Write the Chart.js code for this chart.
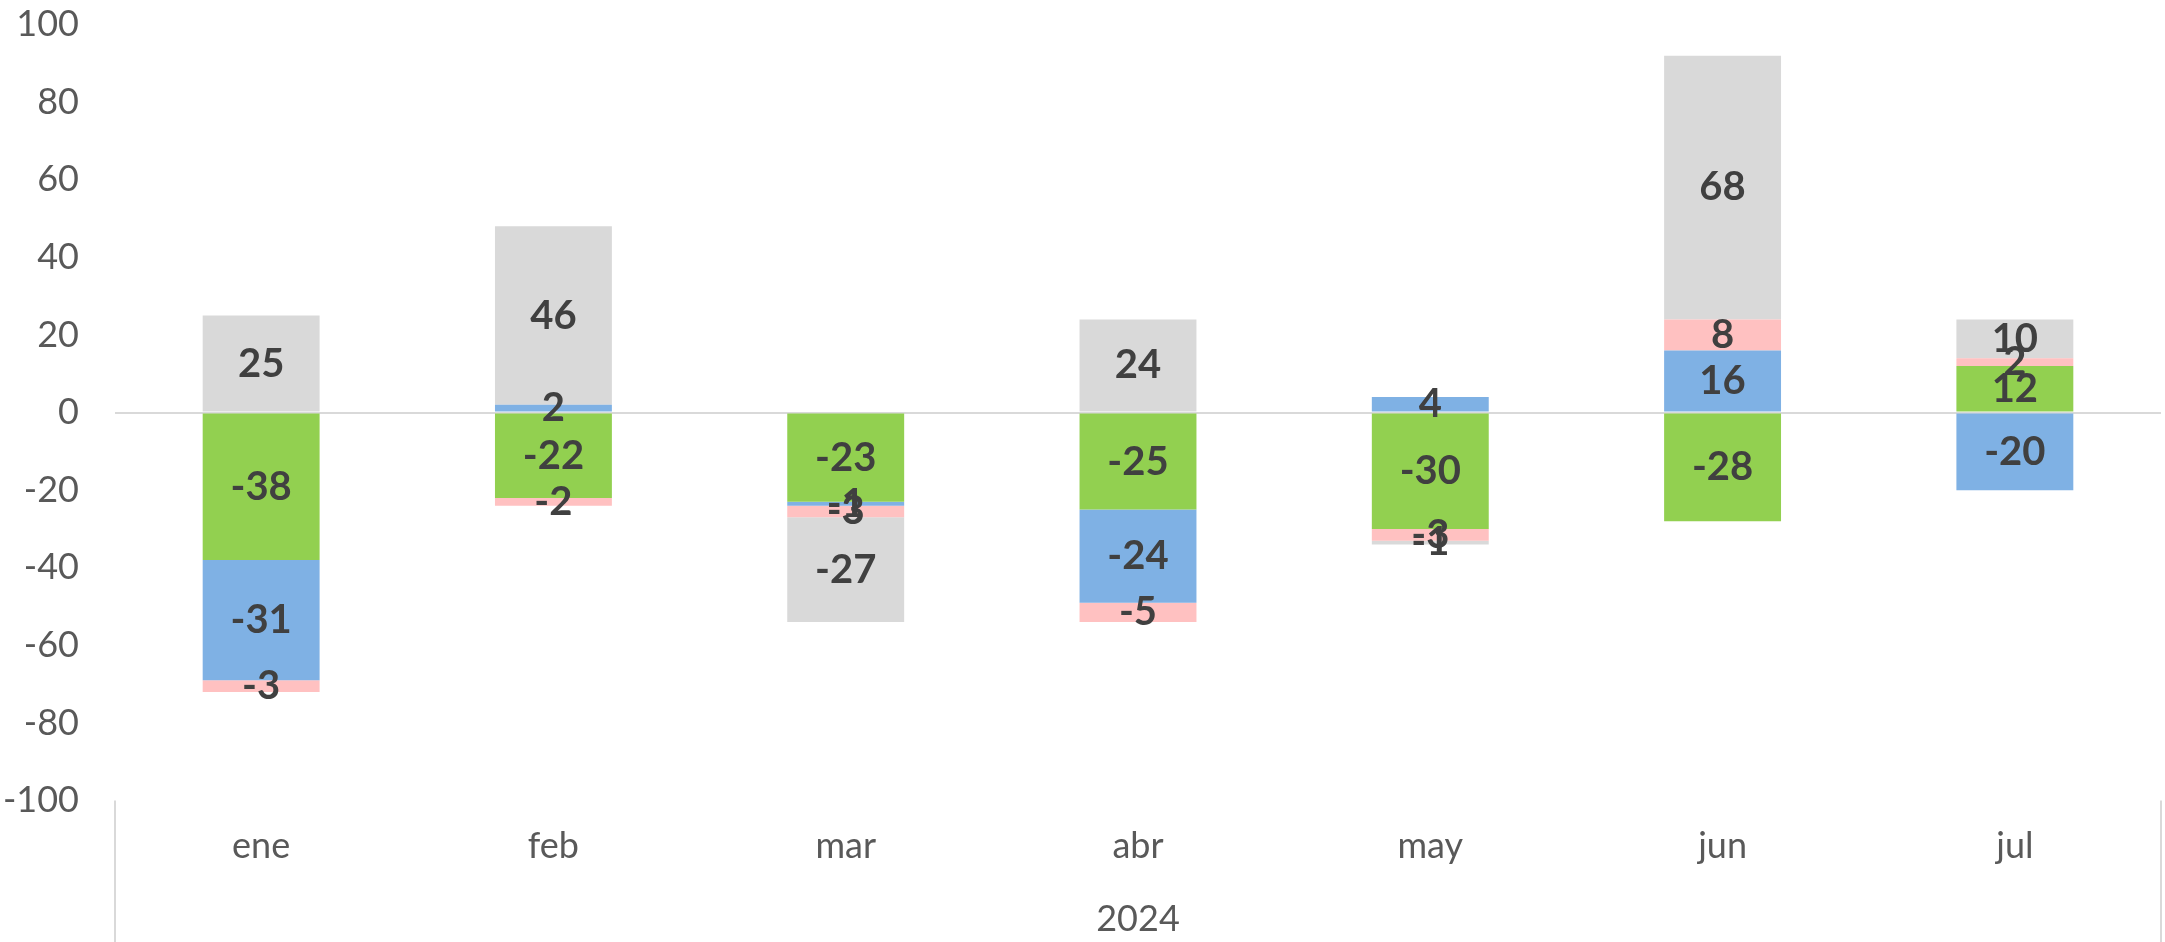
<!DOCTYPE html>
<html>
<head>
<meta charset="utf-8">
<script src="https://cdn.jsdelivr.net/npm/chart.js@4"></script>
<style>
    html, body { margin: 0; padding: 0; background: #fff; }
    #wrap { width: 2165px; height: 942px; }
</style>
</head>
<body>
<div id="wrap"><canvas id="chart"></canvas></div>
<script>
const MONTHS = ['ene', 'feb', 'mar', 'abr', 'may', 'jun', 'jul'];
const YEAR = '2024';
const Y_MIN = -100;
const Y_MAX = 100;
const Y_STEP = 20;

// series, stacked in this order from zero outwards
const greenVals = [-38, -22, -23, -25, -30, -28, 12];
const blueVals  = [-31,   2,  -1, -24,   4,  16, -20];
const pinkVals  = [ -3,  -2,  -3,  -5,  -3,   8,   2];
const grayVals  = [ 25,  46, -27,  24,  -1,  68,  10];

const FONT = 'Lato, "Open Sans", sans-serif';

// values written in the middle of every segment
const barLabels = {
    id: 'barLabels',
    afterDatasetsDraw(chart) {
        const ctx = chart.ctx;
        ctx.save();
        ctx.font = `bold 40px ${FONT}`;
        ctx.fillStyle = '#404040';
        ctx.textAlign = 'center';
        ctx.textBaseline = 'middle';
        chart.data.datasets.forEach((ds, i) => {
            const meta = chart.getDatasetMeta(i);
            meta.data.forEach((bar, j) => {
                const v = ds.data[j];
                if (!v) return;
                const p = bar.getCenterPoint();
                ctx.fillText(String(v), p.x, p.y);
            });
        });
        ctx.restore();
    }
};

// the two outer lines of the category axis
const axisEdges = {
    id: 'axisEdges',
    afterDraw(chart) {
        const x = chart.scales.x;
        const ctx = chart.ctx;
        ctx.save();
        ctx.strokeStyle = '#d9d9d9';
        ctx.lineWidth = 2;
        [x.left, x.right].forEach(px => {
            ctx.beginPath();
            ctx.moveTo(px, x.top);
            ctx.lineTo(px, chart.height);
            ctx.stroke();
        });
        ctx.restore();
    }
};

const mk = (label, data, color) => ({
    label, data,
    backgroundColor: color,
    borderWidth: 0,
    categoryPercentage: 1,
    barPercentage: 0.4,
});

new Chart(document.getElementById('chart'), {
    type: 'bar',
    data: {
        labels: MONTHS,
        datasets: [
            mk('serie 1', greenVals, '#92d050'),
            mk('serie 2', blueVals, '#7fb1e4'),
            mk('serie 3', pinkVals, '#ffc1c1'),
            mk('serie 4', grayVals, '#d9d9d9'),
        ]
    },
    options: {
        responsive: true,
        maintainAspectRatio: false,
        animation: false,
        layout: { padding: { top: 0, right: 4, left: 0, bottom: 0 } },
        plugins: {
            legend: { display: false },
            tooltip: { enabled: false },
        },
        scales: {
            x: {
                stacked: true,
                grid: { display: false },
                border: { display: false },
                ticks: {
                    color: '#595959',
                    font: { family: FONT, size: 36 },
                    padding: 16,
                },
                title: {
                    display: true,
                    text: YEAR,
                    color: '#595959',
                    font: { family: FONT, size: 36 },
                    padding: { top: 14, bottom: 1 },
                },
            },
            y: {
                stacked: true,
                min: Y_MIN,
                max: Y_MAX,
                border: { display: false },
                grid: {
                    drawTicks: true,
                    tickLength: 33,
                    tickColor: 'rgba(0,0,0,0)',
                    lineWidth: 2,
                    color: c => c.tick.value === 0 ? '#d9d9d9' : 'rgba(0,0,0,0)',
                },
                ticks: {
                    stepSize: Y_STEP,
                    color: '#595959',
                    font: { family: FONT, size: 36 },
                    padding: 3,
                },
                afterFit(scale) { scale.width = 115; },
            }
        }
    },
    plugins: [barLabels, axisEdges]
});
</script>
</body>
</html>
